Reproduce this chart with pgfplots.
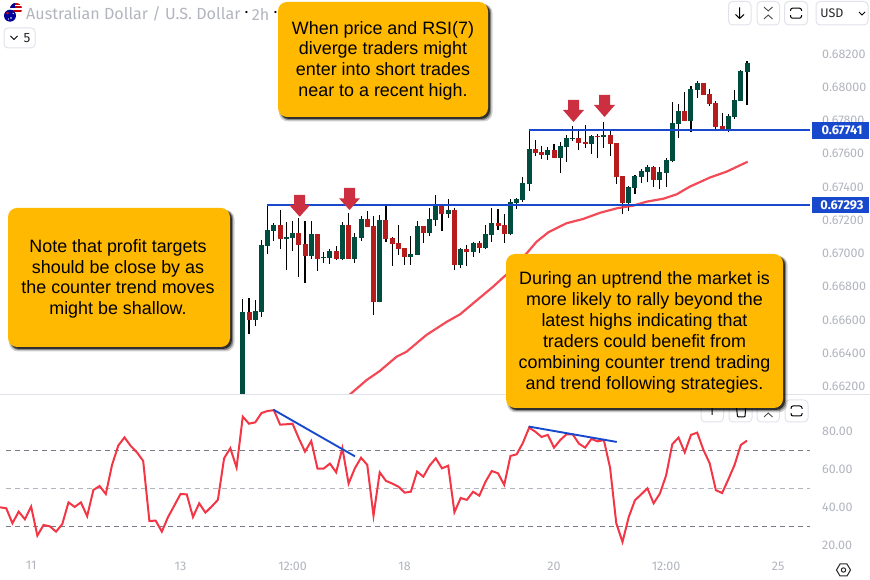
\documentclass[border=0pt]{standalone}
\usepackage{fontspec}
\setmainfont{Fira Sans}
\newfontfamily\arialf{Liberation Sans}
\usepackage{pgfplots}
\usepackage{pgfplotstable}
\pgfplotsset{compat=1.18}
\definecolor{upc}{HTML}{004D40}
\definecolor{dnc}{HTML}{B71C1C}
\definecolor{redl}{HTML}{F23645}
\definecolor{bluel}{HTML}{1848CC}
\definecolor{txtg}{HTML}{B2B5BE}
\definecolor{darkd}{HTML}{787B86}
\definecolor{btn}{HTML}{E0E3EB}
\definecolor{yel}{HTML}{FFB900}
\definecolor{arr}{HTML}{CC3040}
\pgfplotstableread{
i b t l h
39 .66038 .66648 .66038 .66726
41 .66600 .66654 .66564 .66720
42 .66648 .67051 .66618 .67081
43 .67045 .67141 .66997 .67292
44 .67135 .67171 .67075 .67185
46 .67087 .67099 .66901 .67189
47 .67093 .67123 .67015 .67195
50 .66985 .67117 .66967 .67195
52 .66973 .66979 .66943 .67009
53 .66973 .67015 .66937 .67027
55 .66967 .67171 .66961 .67189
57 .66967 .67099 .66943 .67123
58 .67093 .67207 .67075 .67225
61 .66708 .67201 .66708 .67231
66 .66979 .66997 .66931 .67105
67 .66991 .67165 .66991 .67195
69 .67123 .67207 .67105 .67274
70 .67201 .67292 .67165 .67352
72 .67237 .67262 .67213 .67328
74 .66931 .67027 .66913 .67033
76 .67009 .67063 .66979 .67069
78 .67033 .67117 .67027 .67171
79 .67111 .67183 .67069 .67274
82 .67117 .67310 .67111 .67326
83 .67302 .67328 .67268 .67332
84 .67322 .67424 .67310 .67460
85 .67418 .67629 .67376 .67743
88 .67593 .67623 .67563 .67641
90 .67575 .67647 .67484 .67671
91 .67641 .67695 .67550 .67713
92 .67691 .67697 .67677 .67767
95 .67659 .67707 .67599 .67713
97 .67701 .67713 .67635 .67791
101 .67304 .67400 .67256 .67406
102 .67394 .67466 .67358 .67472
103 .67460 .67496 .67424 .67508
104 .67490 .67520 .67430 .67532
106 .67442 .67490 .67388 .67520
107 .67484 .67562 .67400 .67575
108 .67557 .67785 .67550 .67911
109 .67779 .67857 .67695 .67899
111 .67797 .67990 .67731 .68008
112 .67984 .68026 .67935 .68038
117 .67743 .67827 .67731 .67839
118 .67821 .67923 .67809 .67984
119 .67917 .68098 .67917 .68104
120 .68092 .68146 .67893 .68158
}\uptable
\pgfplotstableread{
i b t l h
40 .66600 .66648 .66516 .66732
45 .67087 .67171 .67027 .67262
48 .67051 .67123 .66859 .67215
49 .66985 .67057 .66822 .67195
51 .66967 .67117 .66895 .67117
54 .66967 .67015 .66961 .67045
56 .66967 .67171 .66967 .67243
59 .67159 .67207 .67159 .67256
60 .66708 .67165 .66630 .67225
62 .67087 .67201 .67069 .67286
63 .67057 .67093 .66925 .67099
64 .67027 .67063 .66991 .67171
65 .66979 .67033 .66931 .67033
68 .67123 .67165 .67063 .67165
71 .67237 .67292 .67135 .67298
73 .66931 .67262 .66901 .67274
75 .67009 .67027 .66925 .67051
77 .67033 .67063 .67003 .67075
80 .67165 .67183 .67141 .67268
81 .67117 .67171 .67063 .67237
86 .67605 .67629 .67587 .67683
87 .67593 .67611 .67569 .67647
89 .67575 .67623 .67575 .67659
93 .67665 .67695 .67623 .67743
94 .67659 .67671 .67635 .67773
96 .67701 .67707 .67575 .67719
98 .67659 .67713 .67587 .67743
99 .67460 .67665 .67418 .67665
100 .67304 .67466 .67238 .67466
105 .67442 .67520 .67400 .67526
110 .67797 .67857 .67797 .67971
113 .67953 .68026 .67953 .68026
114 .67899 .67959 .67887 .67990
115 .67761 .67905 .67749 .67917
116 .67743 .67767 .67743 .67845
}\downtable
\pgfplotstableread{
rsi
40.0
39.5
31.6
37.7
33.7
40.4
25.1
30.7
30.0
27.2
31.1
42.6
40.2
42.6
35.3
49.1
51.2
47.0
62.3
72.5
76.8
72.3
68.9
64.4
32.8
33.0
27.2
34.9
40.9
47.0
46.8
34.9
42.1
37.2
40.4
43.9
65.8
71.1
60.9
87.7
84.0
84.7
89.6
90.7
91.1
83.5
83.7
84.0
76.3
69.3
74.9
60.4
60.4
63.0
58.4
71.1
52.5
60.5
66.1
62.3
35.6
58.4
53.9
52.5
50.9
47.7
48.2
58.8
56.1
61.9
65.8
60.5
61.9
37.4
44.9
43.9
48.2
46.1
53.5
59.1
57.9
51.8
67.0
67.9
73.9
81.9
79.8
77.0
78.1
71.4
75.4
78.4
78.4
73.5
71.4
76.0
74.7
75.4
60.9
31.6
21.8
34.9
43.7
46.8
50.0
42.1
47.2
56.7
73.2
76.7
68.9
78.1
79.3
70.2
63.2
49.0
47.5
54.7
62.3
72.8
75.1
}\rsitable
\newcommand{\ybox}[5]{% x1 y1 x2 y2 text-block
  \fill[black,opacity=.18,rounded corners=9pt] (#1+1,#2+2) rectangle (#3+4.5,#4+4.5);
  \fill[black,opacity=.35,rounded corners=9pt] (#1+2,#2+2) rectangle (#3+3.2,#4+3.2);
  \fill[black,opacity=.65,rounded corners=9pt] (#1+2,#2+2) rectangle (#3+2,#4+2);
  \fill[yel,rounded corners=9pt] (#1,#2) rectangle (#3,#4);
}
\newcommand{\btnbox}[4]{\filldraw[fill=white,draw=btn,line width=1pt,rounded corners=4pt] (#1,#2) rectangle (#3,#4);}
\newcommand{\sq}[2]{% full-screen icon centred on #1,#2
  \draw[black,line width=1pt,rounded corners=2pt] (#1-5.5,#2-5) -- (#1+5.5,#2-5) -- (#1+5.5,#2+5) -- (#1-5.5,#2+5) -- cycle;
  \fill[white] (#1-7,#2-2) rectangle (#1+7,#2+2);
}
\newcommand{\darrow}[4]{% cx ytop ybase ytip
  \fill[arr] (#1-5.5,#2) -- (#1+5.5,#2) -- (#1+5.5,#3) -- (#1+10.5,#3) -- (#1,#4) -- (#1-10.5,#3) -- (#1-5.5,#3) -- cycle;
}
\begin{document}
\begin{tikzpicture}
\path[use as bounding box] (0,0) rectangle (870pt,580pt);
% price pane
\begin{axis}[
  at={(0pt,186pt)},anchor=south west,scale only axis,
  width=810pt,height=394pt,
  xmin=0,xmax=130.12,ymin=0.661549,ymax=0.68525,
  axis line style={draw=none},tick style={draw=none},
  xtick=\empty,
  ytick={0.662,0.664,0.666,0.668,0.670,0.672,0.674,0.676,0.678,0.680,0.682},
  yticklabel pos=right,
  yticklabel style={anchor=west,inner sep=0pt,xshift=12pt,text=txtg,font=\fontsize{12.5}{14}\selectfont,
    /pgf/number format/.cd,fixed,fixed zerofill,precision=5,assume math mode=true},
]
\addplot[draw=none,forget plot,mark=none,error bars/.cd,y dir=plus,y explicit,error mark=none,error bar style={black,line width=1.1pt}]
  table[x=i,y=l,y error expr=\thisrow{h}-\thisrow{l}] {\uptable};
\addplot[draw=none,forget plot,mark=none,error bars/.cd,y dir=plus,y explicit,error mark=none,error bar style={black,line width=1.1pt}]
  table[x=i,y=l,y error expr=\thisrow{h}-\thisrow{l}] {\downtable};
\addplot[draw=none,forget plot,mark=none,error bars/.cd,y dir=plus,y explicit,error mark=none,error bar style={upc,line width=5pt}]
  table[x=i,y=b,y error expr=\thisrow{t}-\thisrow{b}] {\uptable};
\addplot[draw=none,forget plot,mark=none,error bars/.cd,y dir=plus,y explicit,error mark=none,error bar style={dnc,line width=5pt}]
  table[x=i,y=b,y error expr=\thisrow{t}-\thisrow{b}] {\downtable};
\addplot[redl,line width=2.2pt,opacity=.9] coordinates {
 (54.6,.66095)(56.3,.66155)(58.9,.66239)(61.0,.66293)(63.7,.66379)(65.3,.66409)(68.5,.66510)(71.8,.66590)(73.9,.66634)(76.0,.66700)(79.2,.66800)(81.4,.66875)(84.6,.67001)(86.2,.67071)(88.1,.67128)(91.0,.67182)(93.7,.67208)(96.4,.67245)(99.1,.67272)(101.7,.67288)(103.9,.67312)(106.6,.67330)(108.7,.67356)(110.8,.67402)(114.1,.67458)(116.7,.67492)(120.1,.67552)};
\addplot[bluel,line width=2.2pt] coordinates {(42.9,.67293)(130.12,.67293)};
\addplot[bluel,line width=2.2pt] coordinates {(85,.67741)(130.12,.67741)};
\end{axis}
% RSI pane
\begin{axis}[
  at={(0pt,25pt)},anchor=south west,scale only axis,
  width=810pt,height=160pt,
  xmin=0,xmax=130.12,ymin=14.9,ymax=99.1,
  axis line style={draw=none},tick style={draw=none},
  xtick={5,29,47,65,89,107,125},
  xticklabels={11,13,12:00,18,20,12:00,25},
  xticklabel style={text=txtg,font=\fontsize{12.5}{14}\selectfont,yshift=-3pt},
  ytick={20,40,60,80},
  yticklabel pos=right,
  yticklabel style={anchor=west,inner sep=0pt,xshift=12pt,text=txtg,font=\fontsize{12.5}{14}\selectfont,
    /pgf/number format/.cd,fixed,fixed zerofill,precision=2,assume math mode=true},
]
\addplot[darkd,line width=.9pt,dash pattern=on 4.5pt off 4.5pt] coordinates {(1,70)(130.12,70)};
\addplot[txtg,line width=.9pt,dash pattern=on 4.5pt off 4.5pt] coordinates {(1,50)(130.12,50)};
\addplot[darkd,line width=.9pt,dash pattern=on 4.5pt off 4.5pt] coordinates {(1,30)(130.12,30)};
\addplot[redl,line width=2pt] table[x expr=\coordindex,y=rsi] {\rsitable};
\addplot[bluel,line width=1.9pt] coordinates {(43.9,91.4)(57.03,66.8)};
\addplot[bluel,line width=1.9pt] coordinates {(84.93,82.5)(99.07,74.4)};
\end{axis}
\begin{scope}[shift={(0pt,580pt)},x=1pt,y=-1pt]
% pane separator
\draw[btn,line width=1pt] (0,394.5) -- (870,394.5);
% flags
\fill[white] (16,9) circle (6);
\begin{scope}
\clip (16,9) circle (6);
\fill[red!75!black] (10,3) rectangle (22,4.6);
\fill[red!75!black] (10,6.4) rectangle (22,8);
\fill[red!75!black] (10,10) rectangle (22,11.6);
\fill[blue!60!black] (10,3) rectangle (15,8);
\end{scope}
\fill[blue!60!black] (10,15.7) circle (6);
\fill[red!85!black] (7.5,13.2) circle (1.5);
\fill[white] (11,18) circle (.9);
\fill[white] (13.2,13.5) circle (.7);
\fill[white] (8.5,19) circle (.7);
% top text
\node[anchor=west,inner sep=0pt,text=txtg,font=\fontsize{16.1}{18}\selectfont] at (26,14) {Australian Dollar / U.S. Dollar};
\node[inner sep=0pt,text=black,font=\fontsize{16.1}{18}\selectfont] at (246.5,14) {·};
\node[inner sep=0pt,text=txtg,font=\fontsize{16.1}{18}\selectfont] at (260.5,14) {2h};
\node[inner sep=0pt,text=black,font=\fontsize{16.1}{18}\selectfont] at (275.5,14) {·};
\btnbox{4}{28}{35}{48}
\draw[black,line width=1pt] (10.5,36) -- (14,39.5) -- (17.5,36);
\node[inner sep=0pt,font=\fontsize{13.5}{15}\selectfont,text=black!85] at (27,38) {5};
% top buttons
\btnbox{728.5}{1.5}{751}{25}
\draw[black,line width=1pt] (739.7,7.5) -- (739.7,18.5) (735.5,14.5) -- (739.7,18.5) -- (744,14.5);
\btnbox{757}{1.5}{779.5}{25}
\draw[black!70,line width=.9pt] (764,7) -- (768.2,11) -- (772.5,7) (764,19) -- (768.2,15) -- (772.5,19);
\btnbox{784.5}{1.5}{807.5}{25}
\sq{796}{13.2}
\btnbox{816}{1.5}{868}{25}
\node[inner sep=0pt,font=\fontsize{12.5}{14}\selectfont,text=black!85] at (832,13.5) {USD};
\draw[black,line width=1pt] (859,12) -- (862,15) -- (865,12);
% RSI pane buttons
\btnbox{701}{400}{723.5}{422}
\draw[black,line width=1pt] (712.2,403) -- (712.2,415) (708,408) -- (712.2,403.5) -- (716.5,408);
\btnbox{729}{400}{752}{422}
\draw[black,line width=1pt,rounded corners=1pt] (736,402) -- (737.5,417) -- (745,417) -- (746,402);
\btnbox{757}{400}{779.5}{422}
\draw[black!70,line width=.9pt] (764,417) -- (768.2,413) -- (772.5,417);
\btnbox{785}{400}{808}{422}
\sq{796.5}{411}
% settings icon
\draw[black!85,line width=1pt] (836.5,570) -- (840,564) -- (847,564) -- (850.5,570) -- (847,576) -- (840,576) -- cycle;
\draw[black!85,line width=1pt] (843.5,570) circle (2.2);
% price tags
\fill[bluel] (812,121.7) rectangle (869,138.7);
\node[inner sep=0pt,text=white,font=\fontsize{12.8}{14}\selectfont\bfseries] at (842,130.2) {0.67741};
\fill[bluel] (812,196.7) rectangle (869,213.3);
\node[inner sep=0pt,text=white,font=\fontsize{12.8}{14}\selectfont\bfseries] at (842,205) {0.67293};
% arrows
\darrow{299.7}{195}{205}{216.7}
\darrow{349.5}{188}{198.3}{210}
\darrow{573.5}{100}{110}{122}
\darrow{604.5}{95}{105}{117}
% annotation boxes
\ybox{278}{2}{488}{117}{}
\node[align=center,inner sep=0pt,font=\arialf\fontsize{17.9}{20.7}\selectfont,text=black] at (383,60.5)
 {When price and RSI(7)\\diverge traders might\\enter into short trades\\near to a recent high.};
\ybox{8}{208}{230}{347}{}
\node[align=center,inner sep=0pt,font=\arialf\fontsize{17.9}{20.7}\selectfont,text=black] at (118,279)
 {Note that profit targets\\should be close by as\\the counter trend moves\\might be shallow.};
\ybox{506}{254}{783}{408}{}
\node[align=center,inner sep=0pt,font=\arialf\fontsize{17.9}{20.9}\selectfont,text=black] at (644.5,332.5)
 {During an uptrend the market is\\more likely to rally beyond the\\latest highs indicating that\\traders could benefit from\\combining counter trend trading\\and trend following strategies.};
\end{scope}
\end{tikzpicture}
\end{document}
